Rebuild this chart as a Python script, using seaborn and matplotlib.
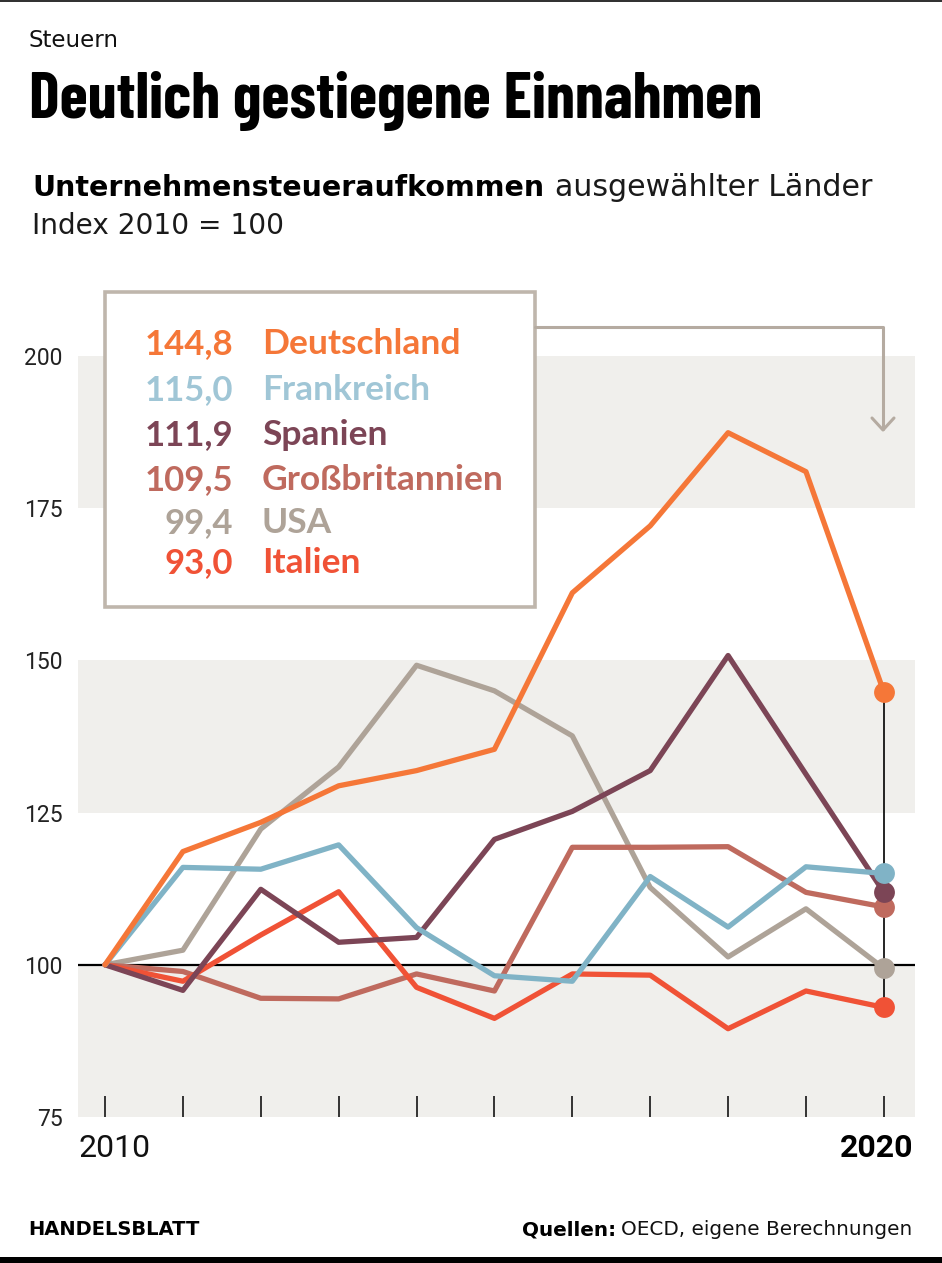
import matplotlib
matplotlib.use("Agg")
import matplotlib.pyplot as plt
import pandas as pd
import seaborn as sns
from matplotlib.lines import Line2D
from matplotlib.patches import Rectangle

# Daten (Index 2010 = 100)
jahre = list(range(2010, 2021))
deutschland = [100, 118.6, 123.4, 129.4, 131.9, 135.4, 161.1, 172.1, 187.4, 181.0, 144.8]
frankreich = [100, 116.0, 115.7, 119.7, 106.1, 98.2, 97.3, 114.5, 106.2, 116.1, 115.0]
spanien = [100, 95.8, 112.4, 103.7, 104.5, 120.6, 125.2, 131.9, 150.8, 131.3, 111.9]
grossbritannien = [100, 98.9, 94.5, 94.4, 98.5, 95.7, 119.3, 119.3, 119.4, 111.9, 109.5]
usa = [100, 102.4, 122.3, 132.5, 149.2, 145.0, 137.6, 112.7, 101.3, 109.2, 99.4]
italien = [100, 97.3, 104.9, 112.0, 96.3, 91.2, 98.5, 98.3, 89.5, 95.7, 93.0]

laender = ["Deutschland", "Frankreich", "Spanien", "Großbritannien", "USA", "Italien"]
endwerte = ["144,8", "115,0", "111,9", "109,5", "99,4", "93,0"]

farben = {
    "Deutschland": "#F57738",
    "Frankreich": "#80B3C6",
    "Spanien": "#7C4556",
    "Großbritannien": "#BF6A5E",
    "USA": "#AEA398",
    "Italien": "#F05236",
}
textfarben = dict(farben, Frankreich="#A0C6D6")

serien = {
    "Deutschland": deutschland, "Frankreich": frankreich, "Spanien": spanien,
    "Großbritannien": grossbritannien, "USA": usa, "Italien": italien,
}
df = pd.DataFrame([(land, j, w) for land, werte in serien.items()
                   for j, w in zip(jahre, werte)], columns=["land", "jahr", "wert"])

sns.set_style("white")
TITEL = ["Barlow Condensed", "Roboto Condensed", "DejaVu Sans"]
ZAHL = ["Roboto", "DejaVu Sans"]
TEXT = ["DejaVu Sans"]
LEG = ["Lato", "DejaVu Sans"]
plt.rcParams["font.family"] = ZAHL

W, H = 942, 1263
fig = plt.figure(figsize=(W / 100, H / 100), dpi=100)


def fx(x):
    return x / W


def fy(y):
    return 1 - y / H


ax = fig.add_axes([fx(78), fy(1117), (915 - 78) / W, (1117 - 356) / H])
ax.set_xlim(2009.653, 2020.40)
ax.set_ylim(75, 200)

band = "#F0EFEC"
for lo, hi in [(75, 100), (125, 150), (175, 200)]:
    ax.axhspan(lo, hi, color=band, lw=0, zorder=0)
ax.axhline(100, color="black", lw=1.6, zorder=1)
ax.vlines(2020, 93.0, 144.8, color="black", lw=1.2, zorder=2)

reihenfolge = ["USA", "Großbritannien", "Italien", "Spanien", "Frankreich", "Deutschland"]
sns.lineplot(data=df, x="jahr", y="wert", hue="land", hue_order=reihenfolge,
             palette=farben, linewidth=3.8, legend=False, ax=ax, zorder=3)

end = df[df["jahr"] == 2020]
for land in ["Deutschland", "Italien", "USA", "Großbritannien", "Spanien", "Frankreich"]:
    v = end.loc[end["land"] == land, "wert"].iloc[0]
    ax.plot(2020, v, "o", ms=15, color=farben[land], mec="none", zorder=5)

for s in ax.spines.values():
    s.set_visible(False)
ax.set_xticks(jahre)
ax.tick_params(axis="x", direction="in", length=15, width=1.1, color="black",
               labelbottom=False, bottom=True, pad=0)
ax.set_yticks([75, 100, 125, 150, 175, 200])
ax.tick_params(axis="y", length=0, pad=11, labelsize=16.5, labelcolor="#222222")
ax.set_xlabel("")
ax.set_ylabel("")

# Legendenkasten
fig.add_artist(Rectangle((fx(105), fy(607)), (535 - 105) / W, (607 - 292) / H,
                         transform=fig.transFigure, facecolor="white",
                         edgecolor="#BFB6AC", lw=2.6, zorder=10))
grau = "#B5ABA1"
fig.add_artist(Line2D([fx(535), fx(883), fx(883)], [fy(327), fy(327), fy(429)],
                      transform=fig.transFigure, color=grau, lw=2.2, zorder=10))
fig.add_artist(Line2D([fx(872), fx(883), fx(894)], [fy(418), fy(430), fy(418)],
                      transform=fig.transFigure, color=grau, lw=2.2, zorder=10))

zeilen_y = [354, 400, 445, 490, 533, 573]
for land, wert, y in zip(laender, endwerte, zeilen_y):
    fig.text(fx(233), fy(y), wert, ha="right", va="baseline", fontsize=25,
             fontweight="bold", color=textfarben[land], family=LEG, zorder=11)
    fig.text(fx(262), fy(y), land, ha="left", va="baseline", fontsize=25.5,
             fontweight="bold", color=textfarben[land], family=LEG, zorder=11)

# Kopf
fig.text(fx(29), fy(47), "Steuern", fontsize=16.5, va="baseline", color="#111111",
         family=TEXT)
fig.text(fx(29), fy(118), "Deutlich gestiegene Einnahmen", fontsize=46.5,
         fontweight="bold", va="baseline", color="black", family=TITEL)
fig.canvas.draw()
r = fig.canvas.get_renderer()
t1 = fig.text(fx(32), fy(196), "Unternehmensteueraufkommen", fontsize=20.5,
              fontweight="bold", va="baseline", color="black", family=TEXT)
bb = t1.get_window_extent(r)
fig.text(bb.x1 / W + 11 / W, fy(196), "ausgewählter Länder", fontsize=21.6,
         va="baseline", color="#1a1a1a", family=TEXT)
fig.text(fx(32), fy(234), "Index 2010 = 100", fontsize=20.2,
         va="baseline", color="#1a1a1a", family=TEXT)

# Achsenbeschriftung Jahre
fig.text(fx(78), fy(1157), "2010", fontsize=23, va="baseline", color="#111111")
fig.text(fx(913), fy(1157), "2020", fontsize=23, fontweight="bold", ha="right",
         va="baseline", color="black")

# Fuß
fig.text(fx(28), fy(1235), "HANDELSBLATT", fontsize=14, fontweight="bold",
         va="baseline", color="black", family=TEXT)
t2 = fig.text(fx(912), fy(1235), "OECD, eigene Berechnungen", fontsize=14.4,
              ha="right", va="baseline", color="#111111", family=TEXT)
bb2 = t2.get_window_extent(r)
fig.text(bb2.x0 / W - 5 / W, fy(1235), "Quellen:", fontsize=14.4, fontweight="bold",
         ha="right", va="baseline", color="black", family=TEXT)

# Rahmenlinien oben/unten
fig.add_artist(Rectangle((0, fy(2)), 1, 2 / H, transform=fig.transFigure,
                         facecolor="#333333", lw=0))
fig.add_artist(Rectangle((0, 0), 1, 6 / H, transform=fig.transFigure,
                         facecolor="black", lw=0))

fig.savefig("out.png", dpi=100)
